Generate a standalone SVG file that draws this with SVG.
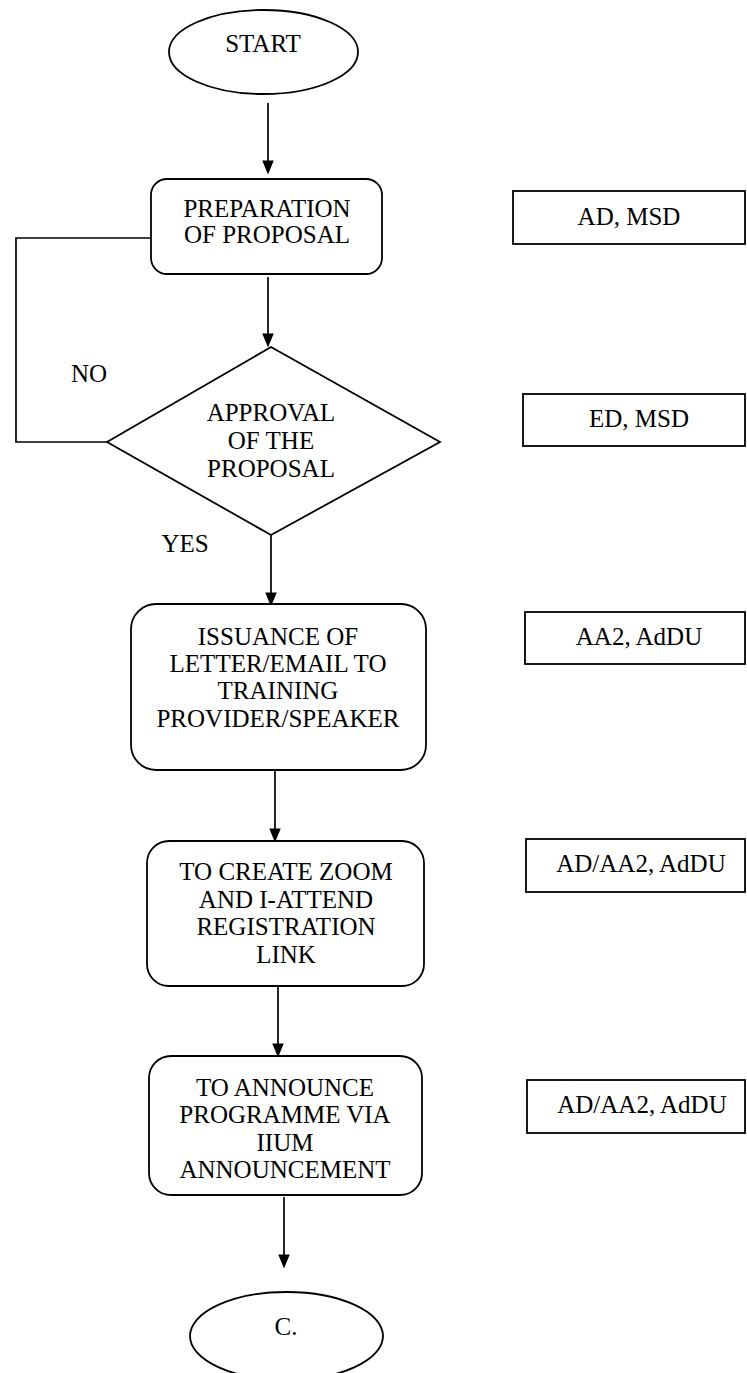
<svg xmlns="http://www.w3.org/2000/svg" width="747" height="1373" viewBox="0 0 747 1373">
  <defs>
    <marker id="arrow" markerWidth="14" markerHeight="17" refX="14" refY="7" orient="auto" markerUnits="userSpaceOnUse" viewBox="0 0 17 14">
      <path d="M0,0 L17,7 L0,14 Z" fill="#000"/>
    </marker>
    <style>
      .shape { fill: #fff; stroke: #000; stroke-width: 1.8; }
      .line { fill: none; stroke: #000; stroke-width: 1.7; }
      text { font-family: "Liberation Serif", "Times New Roman", serif; font-size: 25px; fill: #000; text-anchor: middle; }
    </style>
  </defs>
  <rect width="747" height="1373" fill="#fff"/>

  <!-- connectors -->
  <g id="connectors">
    <line class="line" x1="268" y1="103" x2="268" y2="172" marker-end="url(#arrow)"/>
    <line class="line" x1="268" y1="277" x2="268" y2="345" marker-end="url(#arrow)"/>
    <polyline class="line" points="151,238 16,238 16,442 107,442"/>
    <line class="line" x1="271" y1="535" x2="271" y2="604" marker-end="url(#arrow)"/>
    <line class="line" x1="275" y1="770" x2="275" y2="840" marker-end="url(#arrow)"/>
    <line class="line" x1="278" y1="986" x2="278" y2="1055" marker-end="url(#arrow)"/>
    <line class="line" x1="284" y1="1197" x2="284" y2="1266" marker-end="url(#arrow)"/>
    <text x="89" y="382">NO</text>
    <text x="185" y="552">YES</text>
  </g>

  <!-- start terminal -->
  <g id="start">
    <ellipse class="shape" cx="263.5" cy="52" rx="94.5" ry="42"/>
    <text x="263" y="52">START</text>
  </g>

  <!-- proposal preparation -->
  <g id="preparation">
    <rect class="shape" x="151" y="179" width="231" height="95" rx="16" ry="16"/>
    <text x="267" y="217">PREPARATION</text>
    <text x="267" y="243">OF PROPOSAL</text>
  </g>
  <g id="resp-preparation">
    <rect class="shape" x="513" y="191" width="232" height="53"/>
    <text x="629" y="225">AD, MSD</text>
  </g>

  <!-- approval decision -->
  <g id="approval">
    <polygon class="shape" points="271,347 440,442 271,535 107,442"/>
    <text x="271" y="421">APPROVAL</text>
    <text x="271" y="449">OF THE</text>
    <text x="271" y="477">PROPOSAL</text>
  </g>
  <g id="resp-approval">
    <rect class="shape" x="523" y="394" width="222" height="52"/>
    <text x="639" y="427">ED, MSD</text>
  </g>

  <!-- issuance of letter -->
  <g id="issuance">
    <rect class="shape" x="131" y="604" width="295" height="166" rx="25" ry="25"/>
    <text x="278" y="645">ISSUANCE OF</text>
    <text x="278" y="672">LETTER/EMAIL TO</text>
    <text x="278" y="699">TRAINING</text>
    <text x="278" y="727">PROVIDER/SPEAKER</text>
  </g>
  <g id="resp-issuance">
    <rect class="shape" x="525" y="612" width="220" height="52"/>
    <text x="639" y="645">AA2, AdDU</text>
  </g>

  <!-- registration link -->
  <g id="registration">
    <rect class="shape" x="147" y="841" width="277" height="145" rx="22" ry="22"/>
    <text x="286" y="880">TO CREATE ZOOM</text>
    <text x="286" y="908">AND I-ATTEND</text>
    <text x="286" y="935">REGISTRATION</text>
    <text x="286" y="963">LINK</text>
  </g>
  <g id="resp-registration">
    <rect class="shape" x="526" y="839" width="219" height="53"/>
    <text x="641" y="872">AD/AA2, AdDU</text>
  </g>

  <!-- announcement -->
  <g id="announcement">
    <rect class="shape" x="149" y="1056" width="273" height="139" rx="22" ry="22"/>
    <text x="285" y="1096">TO ANNOUNCE</text>
    <text x="285" y="1123">PROGRAMME VIA</text>
    <text x="285" y="1151">IIUM</text>
    <text x="285" y="1178">ANNOUNCEMENT</text>
  </g>
  <g id="resp-announcement">
    <rect class="shape" x="527" y="1080" width="218" height="53"/>
    <text x="642" y="1113">AD/AA2, AdDU</text>
  </g>

  <!-- continuation connector -->
  <g id="continue-c">
    <ellipse class="shape" cx="286.5" cy="1336" rx="96.5" ry="44"/>
    <text x="286" y="1335">C.</text>
  </g>
</svg>
